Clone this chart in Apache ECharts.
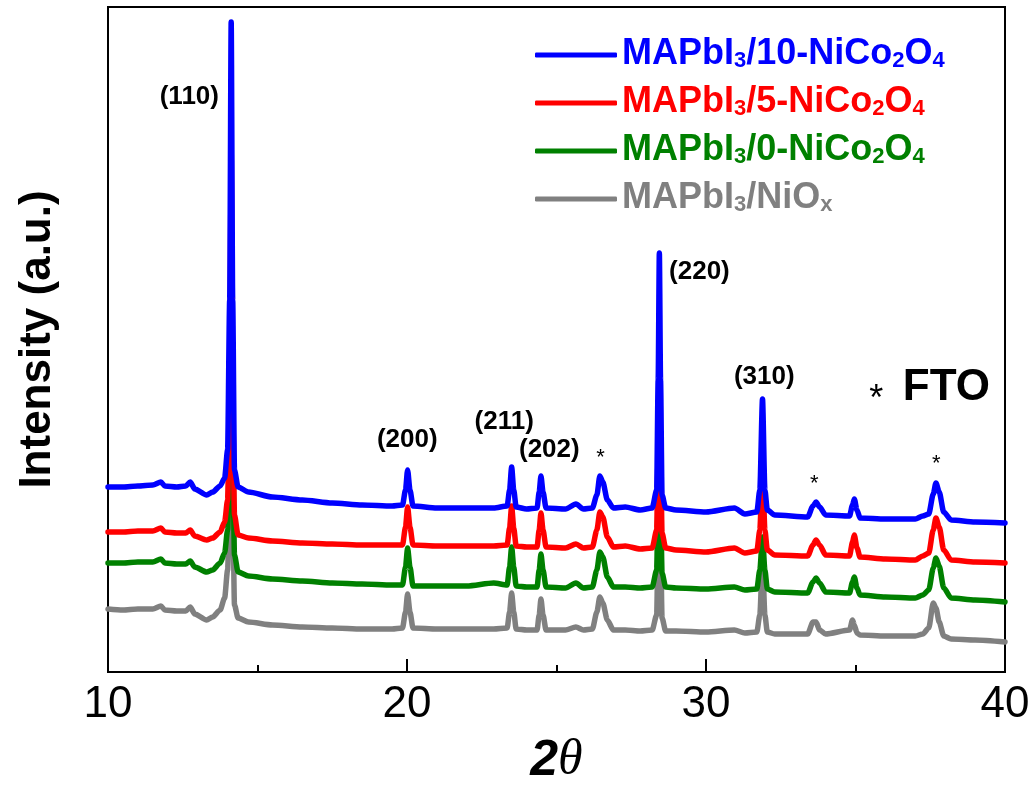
<!DOCTYPE html>
<html><head><meta charset="utf-8">
<script src="https://cdn.jsdelivr.net/npm/echarts@6/dist/echarts.min.js"></script>
<style>html,body{margin:0;padding:0;background:#fff}#c{width:1036px;height:794px}</style>
</head><body><div id="c"></div>
<script>
// 2θ sampling positions (degrees)
const twoTheta = [
  10.00,10.50,11.00,11.50,11.77,11.90,12.30,12.60,12.75,12.90,
  13.30,13.50,13.75,13.90,14.00,14.07,14.12,14.17,14.23,14.35,
  14.70,15.50,16.50,17.50,18.50,19.50,19.85,19.95,20.02,20.10,
  20.20,21.00,22.00,22.90,23.35,23.43,23.50,23.57,23.65,24.00,
  24.35,24.42,24.48,24.55,24.65,25.30,25.65,25.90,26.20,26.35,
  26.45,26.55,26.70,26.90,27.30,27.80,28.20,28.35,28.40,28.44,
  28.48,28.53,28.65,29.00,30.00,30.95,31.30,31.70,31.80,31.89,
  31.97,32.05,32.30,33.40,33.58,33.68,33.80,34.00,34.80,34.90,
  34.96,35.05,35.15,36.00,37.00,37.25,37.45,37.60,37.69,37.80,
  37.95,38.20,39.00,40.00
];
// Intensity (a.u., stacked traces as plotted)
const ni10 = [
  185,185,186,187,190,186,185,186,190,183,
  177,180,186,194,222,372,650,372,202,185,
  180,175,172,169,167,166,167,182,202,182,
  166,164,164,164,166,182,205,182,165,163,
  164,180,196,180,164,163,168,163,164,177,
  196,190,172,164,165,162,164,182,292,419,
  292,177,164,162,160,164,158,160,182,273,
  182,162,157,155,166,170,165,157,156,167,
  173,162,154,153,153,156,158,178,189,180,
  160,152,150,149
];
const ni5 = [
  140,140,141,141,144,140,139,139,142,136,
  132,134,140,150,172,272,522,272,157,137,
  134,131,129,128,127,127,127,145,165,145,
  127,126,126,126,127,144,166,144,126,125,
  125,142,159,142,125,124,128,124,125,142,
  160,155,135,125,126,123,124,142,222,289,
  222,139,124,122,120,124,119,121,142,205,
  142,122,117,116,127,132,127,117,116,130,
  137,124,115,113,112,116,119,142,154,145,
  122,112,110,109
];
const ni0 = [
  109,109,110,110,113,109,108,108,111,105,
  100,102,109,119,142,222,422,222,117,100,
  96,93,91,89,88,87,87,105,124,105,
  86,86,86,89,87,105,125,105,86,85,
  85,102,118,102,85,84,89,84,85,102,
  120,115,95,85,85,84,85,102,172,252,
  172,99,85,84,83,85,82,83,102,135,
  102,83,80,79,90,94,89,80,79,90,
  95,84,77,75,74,77,82,104,114,106,
  84,74,72,70
];
const niox = [
  63,62,63,63,66,62,61,61,65,58,
  52,55,62,74,102,172,322,172,67,54,
  50,47,45,44,43,43,44,60,78,60,
  44,43,43,43,44,60,79,60,43,42,
  42,57,73,57,42,42,45,42,43,60,
  75,69,52,42,42,41,42,57,132,202,
  132,54,41,41,40,42,39,40,57,112,
  57,40,38,38,50,50,42,38,42,52,
  47,39,37,36,36,38,44,69,64,50,
  36,33,32,30
];
const seriesNames = ['MAPbI3/10-NiCo2O4','MAPbI3/5-NiCo2O4','MAPbI3/0-NiCo2O4','MAPbI3/NiOx'];
const seriesColors = ['#0000ff','#ff0000','#008000','#808080'];
const seriesData = [ni10, ni5, ni0, niox];
// legend text pieces: [text, isSubscript]
const legendParts = [
  [['MAPbI',0],['3',1],['/10-NiCo',0],['2',1],['O',0],['4',1]],
  [['MAPbI',0],['3',1],['/5-NiCo',0],['2',1],['O',0],['4',1]],
  [['MAPbI',0],['3',1],['/0-NiCo',0],['2',1],['O',0],['4',1]],
  [['MAPbI',0],['3',1],['/NiO',0],['x',1]]
];
// peak annotations: [2θ, intensity, text, fontSize, bold]
const annotations = [
  [12.72, 575, '(110)', 26, true],
  [20.01, 232, '(200)', 26, true],
  [23.25, 250, '(211)', 26, true],
  [24.76, 222, '(202)', 26, true],
  [26.47, 214, '*', 22, false],
  [29.78, 400, '(220)', 26, true],
  [31.95, 295, '(310)', 26, true],
  [33.62, 188, '*', 22, false],
  [37.70, 208, '*', 22, false],
  [35.69, 272, '*', 36, false],
  [38.04, 284, 'FTO', 44, true]
];

const FONT = "Arial, 'Liberation Sans', sans-serif";
const chart = echarts.init(document.getElementById('c'), null, {renderer:'canvas'});

const rich = {};
seriesColors.forEach((c, i) => {
  rich['m' + i] = {fontSize: 36, fontWeight: 'bold', color: c, fontFamily: FONT, verticalAlign: 'bottom', lineHeight: 34};
  rich['s' + i] = {fontSize: 22, fontWeight: 'bold', color: c, fontFamily: FONT, verticalAlign: 'bottom', lineHeight: 34};
});

const lineSeries = [];
for (let i = seriesNames.length - 1; i >= 0; i--) {
  lineSeries.push({
    name: seriesNames[i],
    type: 'line',
    data: twoTheta.map((x, k) => [x, seriesData[i][k]]),
    showSymbol: false,
    symbol: 'none',
    smooth: 0.25,
    smoothMonotone: 'x',
    color: seriesColors[i],
    itemStyle: {color: seriesColors[i]},
    lineStyle: {width: 5.5, color: seriesColors[i], cap: 'round', join: 'round'},
    animation: false,
    z: 2 + (seriesNames.length - i)
  });
}

const option = {
  animation: false,
  backgroundColor: '#ffffff',
  grid: {left: 108, right: 31, top: 7, bottom: 122, show: true, borderColor: '#000', borderWidth: 2, backgroundColor: 'transparent'},
  xAxis: {
    type: 'value', min: 10, max: 40, interval: 10,
    name: '{a|2}{t|θ}', nameLocation: 'middle', nameGap: 64,
    nameTextStyle: {rich: {
      a: {fontSize: 50, fontWeight: 'bold', fontStyle: 'italic', fontFamily: FONT, color: '#000'},
      t: {fontSize: 50, fontStyle: 'italic', fontFamily: "'Liberation Serif', 'Times New Roman', serif", color: '#000'}
    }},
    axisLine: {show: true, lineStyle: {color: '#000', width: 2}},
    axisTick: {show: true, inside: true, length: 13, lineStyle: {color: '#000', width: 2}},
    minorTick: {show: true, splitNumber: 2, length: 7, lineStyle: {color: '#000', width: 2}},
    axisLabel: {fontSize: 44, color: '#000', fontFamily: FONT, margin: 11},
    splitLine: {show: false}
  },
  yAxis: {
    type: 'value', min: 0, max: 665,
    name: 'Intensity (a.u.)', nameLocation: 'middle', nameGap: 48, nameRotate: 90,
    nameTextStyle: {fontSize: 44, fontWeight: 'bold', fontFamily: FONT, color: '#000'},
    axisLine: {show: true, lineStyle: {color: '#000', width: 2}},
    axisTick: {show: false},
    axisLabel: {show: false},
    splitLine: {show: false}
  },
  legend: {
    data: seriesNames.map((n, i) => ({name: n, icon: 'roundRect', itemStyle: {color: seriesColors[i]}})),
    orient: 'vertical',
    left: 530, top: 31,
    itemWidth: 82, itemHeight: 5, itemGap: 12,
    selectedMode: false,
    textStyle: {fontSize: 36, fontWeight: 'bold', fontFamily: FONT, rich: rich},
    formatter: function (name) {
      const i = seriesNames.indexOf(name);
      return legendParts[i].map(p => '{' + (p[1] ? 's' : 'm') + i + '|' + p[0] + '}').join('');
    }
  },
  series: lineSeries.concat([{
    type: 'scatter',
    silent: true,
    symbolSize: 0,
    itemStyle: {opacity: 1},
    z: 10,
    data: annotations.map(a => ({
      value: [a[0], a[1]],
      name: a[2],
      label: {show: true, position: 'inside', formatter: '{b}', fontSize: a[3],
              fontWeight: a[4] ? 'bold' : 'normal', color: '#000', fontFamily: FONT, opacity: 1}
    }))
  }])
};
chart.setOption(option);
</script>
</body></html>
